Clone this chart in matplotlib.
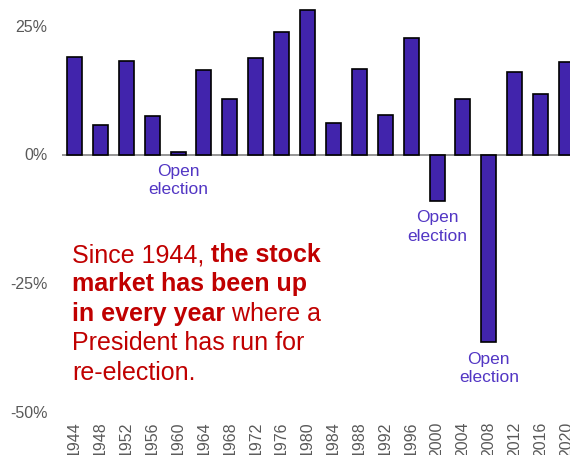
import matplotlib.pyplot as plt

plt.rcParams['font.family'] = ['Liberation Sans', 'DejaVu Sans']

# --------------- data --------------- #
years = ['1944', '1948', '1952', '1956', '1960', '1964', '1968', '1972', '1976', '1980',
         '1984', '1988', '1992', '1996', '2000', '2004', '2008', '2012', '2016', '2020']
returns = [19.0, 5.8, 18.2, 7.4, 0.5, 16.5, 10.8, 18.7, 23.8, 28.0,
           6.1, 16.6, 7.6, 22.7, -9.1, 10.8, -36.5, 16.0, 11.8, 18.0]
open_years = ['1960', '2000', '2008']
y_ticks = [25, 0, -25, -50]
y_labels = ['25%', '0%', '-25%', '-50%']

bar_color = '#4124AC'
label_color = '#5236C4'
red = '#C00000'
gray = '#595959'

fig = plt.figure(figsize=(5.7, 4.55), dpi=100)
ax = fig.add_axes([61.5 / 570, 43 / 455, 518 / 570, 412 / 455])

x = list(range(len(years)))
ax.bar(x, returns, width=0.58, color=bar_color, edgecolor='black', linewidth=1.2, zorder=3)
ax.axhline(0, color='#8c8c8c', lw=1.3, zorder=2)

ax.set_xlim(-0.5, len(years) - 0.5)
ax.set_ylim(-50, 30)
ax.set_yticks(y_ticks)
ax.set_yticklabels(y_labels, color=gray, fontsize=11.5)
ax.set_xticks(x)
ax.set_xticklabels(years, rotation=90, color=gray, fontsize=11.5, va='top')
ax.tick_params(axis='y', length=0, pad=10)
ax.tick_params(axis='x', length=0, pad=7)
for s in ax.spines.values():
    s.set_visible(False)

# "Open election" labels under the open-election bars
for yr in open_years:
    i = years.index(yr)
    base = min(returns[i], 0)
    ax.annotate('Open\nelection', xy=(i, base), xytext=(0, -6.5), textcoords='offset points',
                ha='center', va='top', color=label_color, fontsize=12.5, linespacing=1.3)

# --------------- red comment, mixed bold --------------- #
lines = [
    [('Since 1944, ', 'normal'), ('the stock', 'bold')],
    [('market has been up', 'bold')],
    [('in every year', 'bold'), (' where a', 'normal')],
    [('President has run for', 'normal')],
    [('re-election.', 'normal')],
]
renderer = fig.canvas.get_renderer()
x0 = 72
y0 = 455 - 262  # baseline of the first line, pixels from bottom
line_h = 29.5
for k, parts in enumerate(lines):
    xp = x0
    yp = y0 - k * line_h
    for txt, w in parts:
        t = fig.text(xp / 570, yp / 455, txt, fontsize=18, fontweight=w, color=red,
                     ha='left', va='baseline')
        xp = t.get_window_extent(renderer).x1

fig.savefig('out.png', dpi=100)
